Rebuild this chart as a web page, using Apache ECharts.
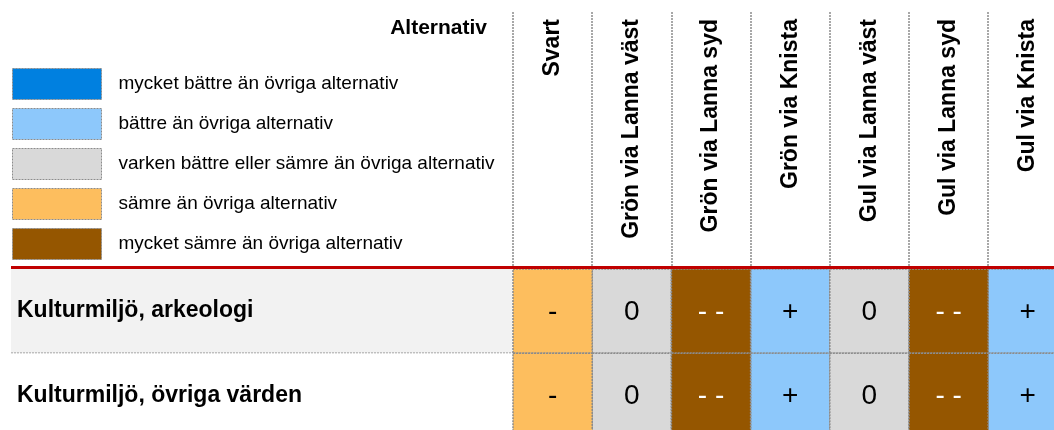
<!DOCTYPE html>
<html>
<head>
<meta charset="utf-8">
<title>Alternativ – kulturmiljö</title>
<script src="https://cdn.jsdelivr.net/npm/echarts@6/dist/echarts.min.js"></script>
<style>
  html, body { margin: 0; padding: 0; background: #fff; }
  #chart { width: 1054px; height: 430px; }
</style>
</head>
<body>
<div id="chart"></div>
<script>
// kolumner (alternativ) och rader (aspekter)
const COLUMNS = ['Svart', 'Grön via Lanna väst', 'Grön via Lanna syd', 'Grön via Knista',
  'Gul via Lanna väst', 'Gul via Lanna syd', 'Gul via Knista']
const ROWS = ['Kulturmiljö, arkeologi', 'Kulturmiljö, övriga värden']

// bedömning per alternativ: 2 = mycket bättre ... -2 = mycket sämre
const ARKEOLOGI = [-1, 0, -2, 1, 0, -2, 1]
const OVRIGA_VARDEN = [-1, 0, -2, 1, 0, -2, 1]
const SCORES = [ARKEOLOGI, OVRIGA_VARDEN]

// skalans nivåer, från bäst till sämst
const LEVELS = [2, 1, 0, -1, -2]
const LEVEL_NAMES = [
  'mycket bättre än övriga alternativ',
  'bättre än övriga alternativ',
  'varken bättre eller sämre än övriga alternativ',
  'sämre än övriga alternativ',
  'mycket sämre än övriga alternativ'
]
const LEVEL_SIGNS = ['+ +', '+', '0', '-', '- -']

const LEVEL_COLORS = ['#0080E0', '#8DC8FB', '#D9D9D9', '#FDBE5E', '#955600']
const FONT = '"Liberation Sans", Arial, sans-serif'
const DOT_LINE = '#8c8c8c'

const chart = echarts.init(document.getElementById('chart'), null, {renderer: 'canvas'})

const renderCell = (params, api) => {
  const col = api.value(0)
  const row = api.value(1)
  const lvl = api.value(2)
  const c = api.coord([col, row])
  const s = api.size([1, 1])
  const sign = LEVEL_SIGNS[LEVELS.indexOf(lvl)]
  return {
    type: 'group',
    children: [
      {
        type: 'rect',
        shape: {x: c[0] - s[0] / 2, y: c[1] - s[1] / 2, width: s[0], height: s[1]},
        style: {fill: api.visual('color'), stroke: DOT_LINE, lineWidth: 1.5, lineDash: [2, 1]}
      },
      {
        type: 'text',
        style: {
          x: c[0], y: c[1] + 1, text: sign,
          fill: lvl === -2 ? '#fff' : '#000',
          font: '28px ' + FONT, align: 'center', verticalAlign: 'middle'
        }
      }
    ]
  }
}

// bakgrund bakom radrubrikerna + streckad radgräns
const renderRowBand = (params, api) => {
  const row = api.value(0)
  const c = api.coord([0, row])
  const s = api.size([1, 1])
  const top = c[1] - s[1] / 2
  const left = params.coordSys.x
  return {
    type: 'group',
    children: [
      {
        type: 'rect',
        shape: {x: 11, y: top, width: left - 11, height: s[1]},
        style: {fill: row === 0 ? '#F2F2F2' : '#fff'}
      },
      {
        type: 'line',
        shape: {x1: 11, y1: top + s[1], x2: api.getWidth(), y2: top + s[1]},
        style: {stroke: DOT_LINE, lineWidth: 1.5, lineDash: [2, 1]}
      }
    ]
  }
}

const levelSeries = LEVELS.map((lvl, i) => {
  const data = []
  SCORES.forEach((rowScores, r) => {
    rowScores.forEach((v, ci) => {
      if (v === lvl) data.push([ci, r, v])
    })
  })
  return {
    name: LEVEL_NAMES[i],
    type: 'custom',
    xAxisIndex: 0,
    yAxisIndex: 0,
    z: 3,
    itemStyle: {color: LEVEL_COLORS[i]},
    renderItem: renderCell,
    encode: {x: 0, y: 1},
    data: data
  }
})

chart.setOption({
  animation: false,
  textStyle: {fontFamily: FONT, color: '#000'},
  title: {
    text: 'Alternativ',
    right: 567,
    top: 18,
    padding: 0,
    textStyle: {fontSize: 21, fontWeight: 'bold', color: '#000', fontFamily: FONT}
  },
  legend: {
    orient: 'vertical',
    left: 12,
    top: 68,
    padding: 0,
    itemWidth: 89,
    itemHeight: 31,
    itemGap: 8,
    icon: 'rect',
    selectedMode: false,
    data: LEVEL_NAMES,
    itemStyle: {borderColor: DOT_LINE, borderWidth: 1, borderType: [2, 1]},
    textStyle: {fontSize: 19, color: '#000', fontFamily: FONT, padding: [0, 0, 0, 12]}
  },
  // tabellen fortsätter utanför bildens högerkant, som i originalet
  grid: [
    {left: 513, top: 269, width: 554.4, height: 168.6, outerBoundsMode: 'none', containLabel: false},
    {left: 513, top: 12, width: 554.4, height: 254, outerBoundsMode: 'none', containLabel: false}
  ],
  xAxis: [
    {type: 'category', gridIndex: 0, data: COLUMNS, show: false},
    {
      type: 'category',
      gridIndex: 1,
      data: COLUMNS,
      position: 'top',
      axisLine: {show: false},
      axisTick: {show: false},
      axisLabel: {
        inside: true, rotate: 90, margin: 7, interval: 0,
        fontSize: 23, fontWeight: 'bold', color: '#000', fontFamily: FONT
      },
      splitLine: {show: true, lineStyle: {color: DOT_LINE, width: 1.5, type: [2, 1]}}
    }
  ],
  yAxis: [
    {
      type: 'category',
      gridIndex: 0,
      data: ROWS,
      inverse: true,
      z: 5,
      axisLine: {show: false},
      axisTick: {show: false},
      axisLabel: {
        align: 'left', margin: 496,
        fontSize: 23, fontWeight: 'bold', color: '#000', fontFamily: FONT
      }
    },
    {type: 'value', gridIndex: 1, show: false}
  ],
  graphic: [
    {
      type: 'line',
      z: 10,
      shape: {x1: 11, y1: 267.5, x2: 1054, y2: 267.5},
      style: {stroke: '#C00000', lineWidth: 3}
    }
  ],
  series: [
    {
      type: 'custom',
      xAxisIndex: 0,
      yAxisIndex: 0,
      z: 1,
      clip: false,
      renderItem: renderRowBand,
      encode: {y: 0},
      data: ROWS.map((r, i) => [i])
    },
    ...levelSeries
  ]
})
</script>
</body>
</html>
